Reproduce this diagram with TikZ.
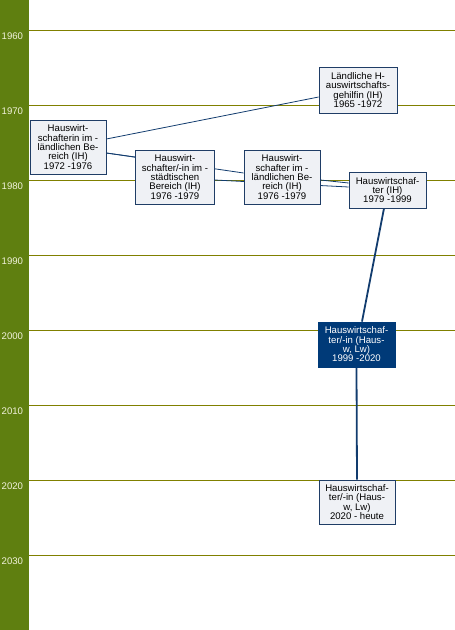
\documentclass[tikz,border=0pt]{standalone}
\usepackage{fontspec}
\setmainfont{Liberation Sans}
\usetikzlibrary{backgrounds}
\definecolor{side}{HTML}{5F7F10}
\definecolor{yearline}{HTML}{808000}
\definecolor{boxline}{HTML}{1F3D66}
\definecolor{boxfill}{HTML}{EFF1F5}
\definecolor{darkbox}{HTML}{003A78}
\definecolor{conn}{HTML}{123C6E}
\definecolor{yeartext}{HTML}{F2F2DC}
\begin{document}
\begin{tikzpicture}[x=1pt,y=-1pt,
  box/.style={draw=boxline, fill=boxfill, line width=0.8pt, align=center,
    font=\fontsize{9.6}{9.3}\selectfont, inner sep=0pt, text=black},
  curbox/.style={box, fill=darkbox, draw=darkbox, text=white},
  thinconn/.style={draw=conn, line width=0.8pt},
  thickconn/.style={draw=conn, line width=1.8pt},
  yearlbl/.style={anchor=west, text=yeartext, font=\fontsize{9.6}{9.6}\selectfont, inner sep=0pt},
  yrline/.style={draw=yearline, line width=0.8pt}]
\useasboundingbox (0,0) rectangle (455,630);

\node[box, minimum width=78pt, minimum height=46pt] (b1) at (358,90)
  {Ländliche H-\\auswirtschafts-\\gehilfin (IH)\\1965 -1972};
\node[box, minimum width=76pt, minimum height=54pt] (b2) at (68,147)
  {Hauswirt-\\schafterin im -\\ländlichen Be-\\reich (IH)\\1972 -1976};
\node[box, minimum width=79pt, minimum height=54pt] (b3) at (175,177)
  {Hauswirt-\\schafter/-in im -\\städtischen\\Bereich (IH)\\1976 -1979};
\node[box, minimum width=76pt, minimum height=54pt] (b4) at (282,177)
  {Hauswirt-\\schafter im -\\ländlichen Be-\\reich (IH)\\1976 -1979};
\node[box, minimum width=77pt, minimum height=36pt] (b5) at (387.5,190)
  {Hauswirtschaf-\\ter (IH)\\1979 -1999};
\node[curbox, minimum width=77pt, minimum height=45pt] (b6) at (356.5,344.5)
  {Hauswirtschaf-\\ter/-in (Haus-\\w, Lw)\\1999 -2020};
\node[box, minimum width=76pt, minimum height=44pt] (b7) at (357,502)
  {Hauswirtschaf-\\ter/-in (Haus-\\w, Lw)\\2020 - heute};

\begin{pgfonlayer}{background}
  \fill[side] (0,0) rectangle (29,630);
  \foreach \yr [count=\i from 0] in {1960,1970,1980,1990,2000,2010,2020,2030} {
    \pgfmathsetmacro{\yy}{30+75*\i}
    \draw[yrline] (29,\yy) -- (455,\yy);
    \node[yearlbl] (y\yr) at (1.5,\yy+6.5) {\yr};
  }
  \draw[thinconn] ([yshift=8pt]b2.east) -- ([yshift=-7pt]b1.west);
  \draw[thinconn] ([yshift=-6pt]b2.east) -- ([yshift=4pt]b4.west);
  \draw[thinconn] ([yshift=-6pt]b2.east) -- ([yshift=20pt]b3.west);
  \draw[thinconn] ([yshift=-3pt]b3.east) -- ([yshift=3pt]b5.west);
  \draw[thinconn] ([yshift=-3pt]b4.east) -- ([yshift=7pt]b5.west);
  \draw[thickconn] ([xshift=-3.5pt]b5.south) -- ([xshift=5.5pt]b6.north);
  \draw[thickconn] (b6.south) -- (b7.north);
\end{pgfonlayer}
\end{tikzpicture}
\end{document}
